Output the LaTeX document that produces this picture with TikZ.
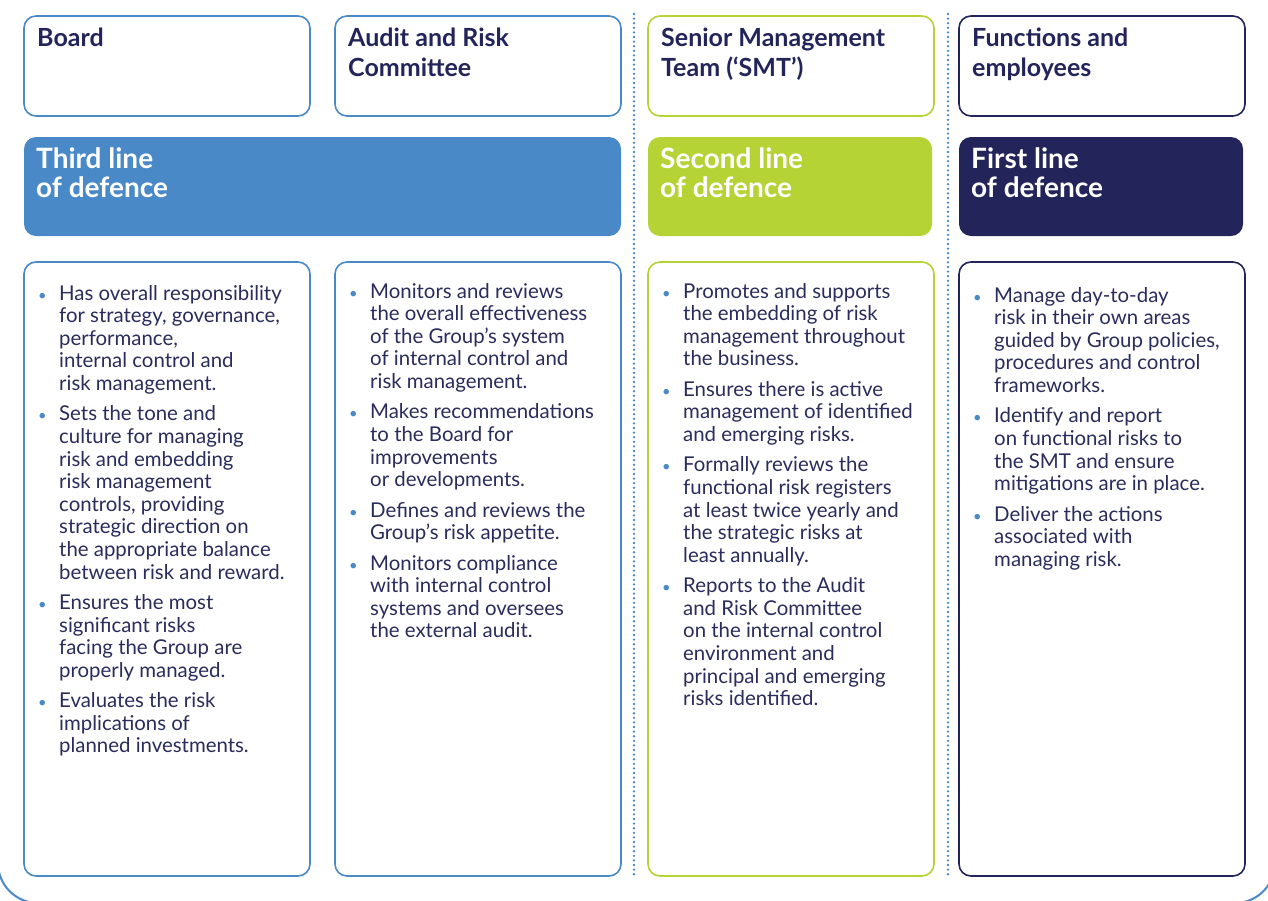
\documentclass[tikz,border=0pt]{standalone}
\usepackage{fontspec}
\setmainfont{Lato}
\usepackage{graphicx}
\definecolor{blueC}{HTML}{4A89C8}
\definecolor{greenC}{HTML}{B5D334}
\definecolor{navyC}{HTML}{23255A}
\definecolor{textC}{HTML}{2A2C5C}
\newcommand{\bi}{\textcolor{blueC}{\scalebox{0.72}{\textbullet}}}
\tikzset{
  hbox/.style={draw, line width=1.6pt, rounded corners=12pt, fill=white, anchor=north west, inner sep=0pt, outer sep=0pt},
  bar/.style={rounded corners=12pt, anchor=north west, inner sep=0pt, outer sep=0pt, minimum height=99pt},
  htext/.style={anchor=base west, inner sep=0pt, text=navyC, font=\fontsize{25}{30}\selectfont\bfseries},
  btext/.style={anchor=base west, inner sep=0pt, text=white, font=\fontsize{28}{28.5}\selectfont\bfseries},
  body/.style={anchor=base west, inner sep=0pt, text=textC, font=\fontsize{20.4}{22.6}\selectfont},
  dotline/.style={blueC, line width=2.6pt, line cap=round, dash pattern=on 0pt off 4.6pt},
  frame/.style={blueC, line width=2pt, rounded corners=40pt},
}
\begin{document}
\begin{tikzpicture}[x=1pt,y=-1pt]
\useasboundingbox (0,0) rectangle (1268,900);
\begin{scope}
\clip (0,0) rectangle (1268,900);
\draw[frame] (-2,-100) rectangle (1275,903);
\end{scope}
% dotted separators
\coordinate (d1t) at (634,14); \coordinate (d1b) at (634,878);
\coordinate (d2t) at (948,14); \coordinate (d2b) at (948,878);
\draw[dotline] (d1t) -- (d1b);
\draw[dotline] (d2t) -- (d2b);
% header boxes
\node[hbox, draw=blueC, minimum width=286pt, minimum height=100pt] (board) at (24,16) {};
\node[hbox, draw=blueC, minimum width=286pt, minimum height=100pt] (arc) at (335,16) {};
\node[hbox, draw=greenC, minimum width=286pt, minimum height=100pt] (smt) at (648,16) {};
\node[hbox, draw=navyC, minimum width=286pt, minimum height=100pt] (fun) at (959,16) {};
\node[htext] (boardT) at (37,46) {\begin{tabular}[t]{@{}l@{}}Board\end{tabular}};
\node[htext] (arcT) at (348,46) {\begin{tabular}[t]{@{}l@{}}Audit and Risk\\Committee\end{tabular}};
\node[htext] (smtT) at (661,46) {\begin{tabular}[t]{@{}l@{}}Senior Management\\Team (‘SMT’)\end{tabular}};
\node[htext] (funT) at (972,46) {\begin{tabular}[t]{@{}l@{}}Functions and\\employees\end{tabular}};
% bars
\node[bar, fill=blueC, minimum width=597pt] (third) at (24,137) {};
\node[bar, fill=greenC, minimum width=284pt] (second) at (648,137) {};
\node[bar, fill=navyC, minimum width=284pt] (first) at (959,137) {};
\node[btext] (thirdT) at (36,168) {\begin{tabular}[t]{@{}l@{}}Third line\\of defence\end{tabular}};
\node[btext] (secondT) at (660,168) {\begin{tabular}[t]{@{}l@{}}Second line\\of defence\end{tabular}};
\node[btext] (firstT) at (971,168) {\begin{tabular}[t]{@{}l@{}}First line\\of defence\end{tabular}};
% body boxes
\node[hbox, draw=blueC, minimum width=286pt, minimum height=614pt] (b1) at (24,262) {};
\node[hbox, draw=blueC, minimum width=286pt, minimum height=614pt] (b2) at (335,262) {};
\node[hbox, draw=greenC, minimum width=286pt, minimum height=614pt] (b3) at (648,262) {};
\node[hbox, draw=navyC, minimum width=286pt, minimum height=614pt] (b4) at (959,262) {};
% body texts
\node[body] (t1) at (38,300) {\begin{tabular}[t]{@{}p{21pt}@{}l@{}}
\bi & Has overall responsibility\\ & for strategy, governance,\\ & performance,\\ & internal control and\\ & risk management.\\[7.8pt]
\bi & Sets the tone and\\ & culture for managing\\ & risk and embedding\\ & risk management\\ & controls, providing\\ & strategic direction on\\ & the appropriate balance\\ & between risk and reward.\\[7.8pt]
\bi & Ensures the most\\ & significant risks\\ & facing the Group are\\ & properly managed.\\[7.8pt]
\bi & Evaluates the risk\\ & implications of\\ & planned investments.
\end{tabular}};
\node[body] (t2) at (349,298) {\begin{tabular}[t]{@{}p{21pt}@{}l@{}}
\bi & Monitors and reviews\\ & the overall effectiveness\\ & of the Group’s system\\ & of internal control and\\ & risk management.\\[7.8pt]
\bi & Makes recommendations\\ & to the Board for\\ & improvements\\ & or developments.\\[7.8pt]
\bi & Defines and reviews the\\ & Group’s risk appetite.\\[7.8pt]
\bi & Monitors compliance\\ & with internal control\\ & systems and oversees\\ & the external audit.
\end{tabular}};
\node[body] (t3) at (662,298) {\begin{tabular}[t]{@{}p{21pt}@{}l@{}}
\bi & Promotes and supports\\ & the embedding of risk\\ & management throughout\\ & the business.\\[7.8pt]
\bi & Ensures there is active\\ & management of identified\\ & and emerging risks.\\[7.8pt]
\bi & Formally reviews the\\ & functional risk registers\\ & at least twice yearly and\\ & the strategic risks at\\ & least annually.\\[7.8pt]
\bi & Reports to the Audit\\ & and Risk Committee\\ & on the internal control\\ & environment and\\ & principal and emerging\\ & risks identified.
\end{tabular}};
\node[body] (t4) at (973,302) {\begin{tabular}[t]{@{}p{21pt}@{}l@{}}
\bi & Manage day-to-day\\ & risk in their own areas\\ & guided by Group policies,\\ & procedures and control\\ & frameworks.\\[7.8pt]
\bi & Identify and report\\ & on functional risks to\\ & the SMT and ensure\\ & mitigations are in place.\\[7.8pt]
\bi & Deliver the actions\\ & associated with\\ & managing risk.
\end{tabular}};
\end{tikzpicture}
\end{document}
